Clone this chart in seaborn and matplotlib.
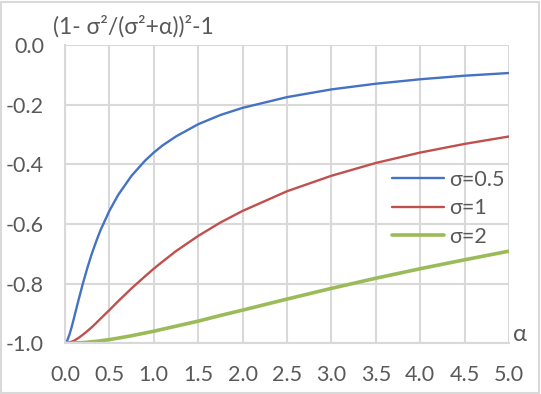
import matplotlib
matplotlib.use('Agg')
import matplotlib.pyplot as plt
import pandas as pd
import seaborn as sns
from matplotlib.patches import Rectangle

ALPHA = [0, 0.025, 0.05, 0.075, 0.1, 0.15, 0.2, 0.25, 0.3, 0.35, 0.4, 0.5, 0.6, 0.75, 0.9,
         1.0, 1.1, 1.25, 1.5, 1.75, 2.0, 2.5, 3.0, 3.5, 4.0, 4.5, 5.0]
SIGMA_05 = [-1.0, -0.992, -0.972, -0.947, -0.918, -0.859, -0.802, -0.750, -0.702, -0.660,
            -0.621, -0.556, -0.502, -0.438, -0.388, -0.360, -0.336, -0.306, -0.265, -0.234,
            -0.210, -0.174, -0.148, -0.129, -0.114, -0.102, -0.093]
SIGMA_1 = [-1.0, -0.999, -0.998, -0.995, -0.992, -0.983, -0.972, -0.960, -0.947, -0.933,
           -0.918, -0.889, -0.859, -0.816, -0.776, -0.750, -0.726, -0.691, -0.640, -0.595,
           -0.556, -0.490, -0.438, -0.395, -0.360, -0.331, -0.306]
SIGMA_2 = [-1.0, -1.0, -1.0, -1.0, -0.999, -0.999, -0.998, -0.997, -0.995, -0.994,
           -0.992, -0.988, -0.983, -0.975, -0.966, -0.960, -0.953, -0.943, -0.926, -0.907,
           -0.889, -0.852, -0.816, -0.782, -0.750, -0.720, -0.691]

X_TICKS = [0.0, 0.5, 1.0, 1.5, 2.0, 2.5, 3.0, 3.5, 4.0, 4.5, 5.0]
Y_TICKS = [-1.0, -0.8, -0.6, -0.4, -0.2, 0.0]

TEXT = '#595959'
GRID = '#d9d9d9'


def main():
    sns.set_style('white')
    plt.rcParams['font.family'] = ['Lato', 'DejaVu Sans']

    df = pd.DataFrame({'alpha': ALPHA, 's05': SIGMA_05, 's1': SIGMA_1, 's2': SIGMA_2})

    fig = plt.figure(figsize=(5.41, 3.94), dpi=100)
    fig.patches.append(Rectangle((0.002, 0.003), 0.995, 0.993, transform=fig.transFigure,
                                 fill=False, edgecolor=GRID, linewidth=1.5))
    ax = fig.add_axes([0.120, 0.129, 0.821, 0.756])

    sns.lineplot(x=df['alpha'], y=df['s05'], color='#4472c4', linewidth=1.7, label='σ=0.5', ax=ax)
    sns.lineplot(x=df['alpha'], y=df['s1'], color='#c0504d', linewidth=1.7, label='σ=1', ax=ax)
    sns.lineplot(x=df['alpha'], y=df['s2'], color='#9bbb59', linewidth=2.6, label='σ=2', ax=ax)

    ax.set_xlim(0, 5)
    ax.set_ylim(-1, 0)
    ax.set_xticks(X_TICKS)
    ax.set_xticklabels([f'{v:.1f}' for v in X_TICKS])
    ax.set_yticks(Y_TICKS)
    ax.set_yticklabels([f'{v:.1f}' for v in Y_TICKS])
    ax.tick_params(colors=TEXT, labelsize=15.5, length=0)
    ax.tick_params(axis='x', pad=16)
    ax.tick_params(axis='y', pad=15)
    ax.grid(True, color=GRID, linewidth=1.5)
    ax.set_axisbelow(True)
    for side in ['top', 'right']:
        ax.spines[side].set_visible(False)
    for side in ['left', 'bottom']:
        ax.spines[side].set_color(GRID)
        ax.spines[side].set_linewidth(1.5)
    ax.set_xlabel('')
    ax.set_ylabel('')

    fig.text(0.098, 0.932, '(1- σ²/(σ²+α))²-1', color=TEXT, fontsize=16.5, va='center', ha='left')
    fig.text(0.962, 0.15, 'α', color=TEXT, fontsize=17, va='center', ha='center')

    leg = ax.legend(loc='center left', bbox_to_anchor=(0.737, 0.453), frameon=False,
                    fontsize=15.5, handlelength=2.4, handletextpad=0.25, labelspacing=0.4,
                    borderpad=0, borderaxespad=0)
    for t in leg.get_texts():
        t.set_color(TEXT)

    fig.savefig('out.png', dpi=100)


if __name__ == '__main__':
    main()
